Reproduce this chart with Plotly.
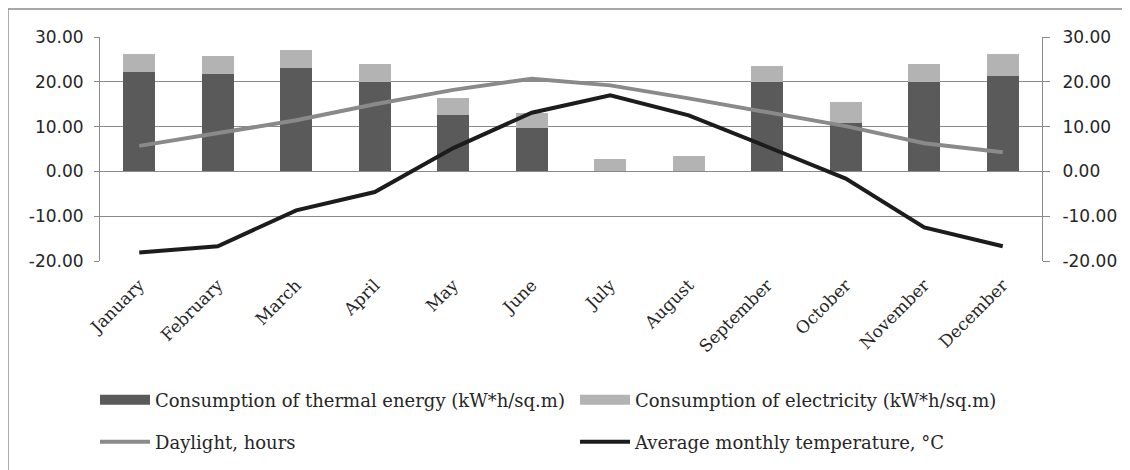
import plotly.graph_objects as go

months = ["January", "February", "March", "April", "May", "June", "July",
          "August", "September", "October", "November", "December"]
thermal = [22.2, 21.7, 23.1, 19.9, 12.7, 9.6, 0.0, 0.0, 20.0, 10.9, 20.0, 21.3]
electricity = [4.0, 4.0, 4.0, 4.1, 3.6, 3.4, 2.8, 3.4, 3.5, 4.5, 4.0, 4.9]
daylight = [5.7, 8.5, 11.4, 15.0, 18.2, 20.7, 19.2, 16.3, 13.3, 10.1, 6.3, 4.3]
temperature = [-18.1, -16.7, -8.7, -4.6, 5.2, 13.1, 17.0, 12.5, 5.5, -1.6, -12.5, -16.7]
y_ticks = [-20, -10, 0, 10, 20, 30]
y_ticktext = ["-20.00", "-10.00", "0.00", "10.00", "20.00", "30.00"]

names = ["Consumption of thermal energy (kW*h/sq.m)",
         "Consumption of electricity (kW*h/sq.m)",
         "Daylight, hours",
         "Average monthly temperature, °C"]
c_thermal, c_elec, c_day, c_temp = "#5a5a5a", "#b3b3b3", "#8a8a8a", "#1c1c1c"

fig = go.Figure()
fig.add_trace(go.Bar(x=months, y=thermal, marker=dict(color=c_thermal, line=dict(width=0)),
                     name=names[0], showlegend=False))
fig.add_trace(go.Bar(x=months, y=electricity, marker=dict(color=c_elec, line=dict(width=0)),
                     name=names[1], showlegend=False))
fig.add_trace(go.Scatter(x=months, y=daylight, mode="lines", yaxis="y2",
                         line=dict(color=c_day, width=4), name=names[2], showlegend=False))
fig.add_trace(go.Scatter(x=months, y=temperature, mode="lines", yaxis="y2",
                         line=dict(color=c_temp, width=4), name=names[3], showlegend=False))

# legend proxies (wide swatches like the original)
fig.add_trace(go.Scatter(x=[None], y=[None], mode="lines", line=dict(color=c_thermal, width=11),
                         name=names[0], legend="legend"))
fig.add_trace(go.Scatter(x=[None], y=[None], mode="lines", line=dict(color=c_elec, width=11),
                         name=names[1], legend="legend"))
fig.add_trace(go.Scatter(x=[None], y=[None], mode="lines", line=dict(color=c_day, width=4),
                         name=names[2], legend="legend2"))
fig.add_trace(go.Scatter(x=[None], y=[None], mode="lines", line=dict(color=c_temp, width=4),
                         name=names[3], legend="legend2"))

grid = "#8a8a8a"
txt = "#262626"
tickfont = dict(family="DejaVu Sans", size=17, color=txt)
legfont = dict(family="DejaVu Serif", size=18, color=txt)

legend_common = dict(orientation="h", x=-0.0053, xanchor="left", yanchor="middle",
                     entrywidth=415, entrywidthmode="pixels", itemwidth=50, font=legfont,
                     traceorder="normal", bgcolor="rgba(0,0,0,0)")

fig.update_layout(
    width=1122, height=462,
    margin=dict(l=92, r=88, t=29, b=209, autoexpand=False),
    paper_bgcolor="white", plot_bgcolor="white",
    barmode="stack", bargap=0.59,
    xaxis=dict(type="category", showline=False, showgrid=False, ticks="",
               tickangle=-45, ticklabelstandoff=10,
               tickfont=dict(family="DejaVu Serif", size=17, color=txt)),
    xaxis2=dict(overlaying="x", anchor="free", position=0.4, range=[-0.5, 11.5],
                tickvals=[i + 0.5 for i in range(len(months) - 1)], showticklabels=False,
                ticks="outside", ticklen=7, tickcolor=grid, showline=True, linecolor=grid,
                linewidth=1, showgrid=False, zeroline=False),
    yaxis=dict(range=[-20, 30], tickvals=y_ticks, ticktext=y_ticktext, showgrid=True,
               gridcolor=grid, gridwidth=1, zeroline=False, showline=True, linecolor=grid,
               ticks="outside", ticklen=5, tickcolor=grid, tickfont=tickfont,
               ticklabelstandoff=7),
    yaxis2=dict(range=[-20, 30], tickvals=y_ticks, ticktext=y_ticktext, overlaying="y",
                side="right", showgrid=False, zeroline=False, showline=True, linecolor=grid,
                ticks="outside", ticklen=7, tickcolor=grid, tickfont=tickfont,
                ticklabelstandoff=9),
    legend=dict(legend_common, y=-0.6205),
    legend2=dict(legend_common, y=-0.808),
    shapes=[dict(type="rect", xref="paper", yref="paper", x0=-0.0977, x1=1.3,
                 y0=-2.0, y1=1.125, line=dict(color="#8c8c8c", width=1.5),
                 fillcolor="rgba(0,0,0,0)", layer="below")],
)

fig.write_html("out.html")
